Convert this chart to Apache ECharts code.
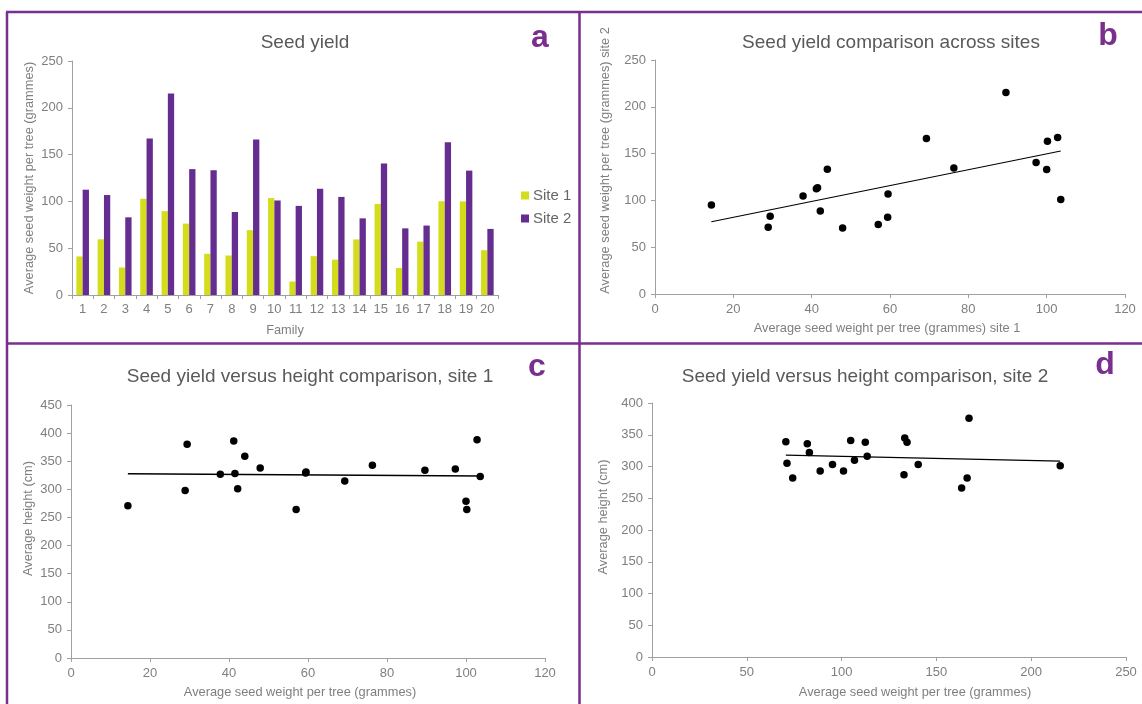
<!DOCTYPE html>
<html><head><meta charset="utf-8">
<script src="https://cdn.jsdelivr.net/npm/echarts@6/dist/echarts.min.js"></script>
<style>html,body{margin:0;padding:0;background:#fff}#c{width:1142px;height:704px}</style>
</head><body><div id="c"></div>
<script>
// ---- data ----
const families = ['1','2','3','4','5','6','7','8','9','10','11','12','13','14','15','16','17','18','19','20'];
const seriesNames = ['Site 1', 'Site 2'];
// average seed weight per tree (grammes)
const site1Yield = [41.2, 59.5, 29.4, 102.8, 89.6, 76.3, 44.0, 42.2, 69.3, 103.6, 14.4, 41.5, 37.8, 59.4, 97.3, 28.9, 57.0, 100.2, 100.0, 47.9];
const site2Yield = [112.5, 106.8, 83.0, 167.2, 215.3, 134.5, 133.3, 88.7, 166.2, 101.0, 95.2, 113.5, 104.8, 81.9, 140.4, 71.2, 74.2, 163.3, 132.9, 70.6];
// average height (cm)
const site1Height = [386, 331, 380, 388, 334, 343, 359, 301, 315, 323, 271, 328, 327, 329, 336, 298, 264, 264, 279, 338];
const site2Height = [338, 310, 322, 376, 301, 338, 345, 293, 282, 293, 303, 316, 341, 336, 303, 305, 282, 266, 287, 339];
// trend line end points
const trendB = [[14.4, 77.2], [103.6, 152.8]];
const trendC = [[14.4, 327.5], [103.6, 323.5]];
const trendD = [[70.6, 317.9], [215.3, 308.5]];
// titles and texts
const titles = ['Seed yield', 'Seed yield comparison across sites', 'Seed yield versus height comparison, site 1', 'Seed yield versus height comparison, site 2'];
const letters = ['a', 'b', 'c', 'd'];
const yieldName = 'Average seed weight per tree (grammes)';

// ---- styling ----
const FONT = 'Liberation Sans';
const PURPLE = '#7a2e8e';
const C1 = '#d4dd1c';
const C2 = '#662d91';
const AX = '#a0a0a0';
const LBL = '#7f7f7f';
const NAME_FS = 12.8;

function nameStyle(padding) {
  return { color: LBL, fontSize: NAME_FS, fontFamily: FONT, padding: padding || 0 };
}
function valAxis(opt) {
  return Object.assign({
    type: 'value',
    splitLine: { show: false },
    axisLine: { show: true, lineStyle: { color: AX, width: 1 } },
    axisTick: { show: true, length: 4, lineStyle: { color: AX } },
    axisLabel: { color: LBL, fontSize: 13, fontFamily: FONT, margin: 9 },
    nameLocation: 'middle',
    nameTextStyle: nameStyle()
  }, opt);
}

const chart = echarts.init(document.getElementById('c'));

const option = {
  animation: false,
  backgroundColor: '#fff',
  textStyle: { fontFamily: FONT },
  grid: [
    { left: 72, top: 61, width: 426, height: 234, outerBoundsMode: 'none' },
    { left: 655, top: 60, width: 470, height: 234, outerBoundsMode: 'none' },
    { left: 71, top: 405, width: 474, height: 253, outerBoundsMode: 'none' },
    { left: 652, top: 403, width: 474, height: 254, outerBoundsMode: 'none' }
  ],
  legend: {
    orient: 'vertical', left: 516, top: 183,
    itemWidth: 8, itemHeight: 8, itemGap: 8, icon: 'rect',
    data: seriesNames,
    textStyle: { color: '#666', fontSize: 15, fontFamily: FONT, padding: [0, 0, 0, -1] }
  },
  xAxis: [
    {
      type: 'category', gridIndex: 0, data: families,
      axisLine: { lineStyle: { color: AX } },
      axisTick: { show: true, length: 4, alignWithLabel: false, lineStyle: { color: AX } },
      axisLabel: { color: LBL, fontSize: 13, fontFamily: FONT, margin: 8, interval: 0 },
      name: 'Family', nameLocation: 'middle', nameGap: 29,
      nameTextStyle: nameStyle()
    },
    valAxis({ gridIndex: 1, min: 0, max: 120, interval: 20, name: yieldName + ' site 1', nameGap: 28,
      nameTextStyle: nameStyle([0, 6, 0, 0]) }),
    valAxis({ gridIndex: 2, min: 0, max: 120, interval: 20, name: yieldName, nameGap: 28,
      nameTextStyle: nameStyle([0, 16, 0, 0]) }),
    valAxis({ gridIndex: 3, min: 0, max: 250, interval: 50, name: yieldName, nameGap: 29,
      nameTextStyle: nameStyle([0, 0, 0, 52]) })
  ],
  yAxis: [
    valAxis({ gridIndex: 0, min: 0, max: 250, interval: 50, name: yieldName, nameGap: 36 }),
    valAxis({ gridIndex: 1, min: 0, max: 250, interval: 50, name: yieldName + ' site 2', nameGap: 43,
      nameTextStyle: nameStyle([0, 0, 0, 33]) }),
    valAxis({ gridIndex: 2, min: 0, max: 450, interval: 50, name: 'Average height (cm)', nameGap: 36,
      nameTextStyle: nameStyle([0, 0, 0, 26]) }),
    valAxis({ gridIndex: 3, min: 0, max: 400, interval: 50, name: 'Average height (cm)', nameGap: 42,
      nameTextStyle: nameStyle([0, 0, 0, 26]) })
  ],
  series: [
    { name: seriesNames[0], type: 'bar', xAxisIndex: 0, yAxisIndex: 0, data: site1Yield,
      barWidth: 6.3, barGap: '0%', itemStyle: { color: C1 } },
    { name: seriesNames[1], type: 'bar', xAxisIndex: 0, yAxisIndex: 0, data: site2Yield,
      barWidth: 6.3, barGap: '0%', itemStyle: { color: C2 } },
    { type: 'scatter', xAxisIndex: 1, yAxisIndex: 1, symbolSize: 7.5,
      data: site1Yield.map((v, i) => [v, site2Yield[i]]), itemStyle: { color: '#000', opacity: 1 } },
    { type: 'line', xAxisIndex: 1, yAxisIndex: 1, data: trendB, symbol: 'none',
      lineStyle: { color: '#000', width: 1.2 } },
    { type: 'scatter', xAxisIndex: 2, yAxisIndex: 2, symbolSize: 7.5,
      data: site1Yield.map((v, i) => [v, site1Height[i]]), itemStyle: { color: '#000', opacity: 1 } },
    { type: 'line', xAxisIndex: 2, yAxisIndex: 2, data: trendC, symbol: 'none',
      lineStyle: { color: '#000', width: 1.5 } },
    { type: 'scatter', xAxisIndex: 3, yAxisIndex: 3, symbolSize: 7.5,
      data: site2Yield.map((v, i) => [v, site2Height[i]]), itemStyle: { color: '#000', opacity: 1 } },
    { type: 'line', xAxisIndex: 3, yAxisIndex: 3, data: trendD, symbol: 'none',
      lineStyle: { color: '#000', width: 1.2 } }
  ],
  graphic: [
    // panel borders
    { type: 'line', shape: { x1: 6, y1: 12, x2: 1142, y2: 12 }, style: { stroke: PURPLE, lineWidth: 2.5 } },
    { type: 'line', shape: { x1: 7, y1: 12, x2: 7, y2: 704 }, style: { stroke: PURPLE, lineWidth: 2.5 } },
    { type: 'line', shape: { x1: 579.5, y1: 12, x2: 579.5, y2: 704 }, style: { stroke: PURPLE, lineWidth: 2.5 } },
    { type: 'line', shape: { x1: 7, y1: 343.5, x2: 1142, y2: 343.5 }, style: { stroke: PURPLE, lineWidth: 2.5 } },
    // titles
    { type: 'text', style: { text: titles[0], x: 305, y: 43, align: 'center', verticalAlign: 'middle', fill: '#595959', fontSize: 19, fontFamily: FONT } },
    { type: 'text', style: { text: titles[1], x: 891, y: 43, align: 'center', verticalAlign: 'middle', fill: '#595959', fontSize: 19, fontFamily: FONT } },
    { type: 'text', style: { text: titles[2], x: 310, y: 377, align: 'center', verticalAlign: 'middle', fill: '#595959', fontSize: 19, fontFamily: FONT } },
    { type: 'text', style: { text: titles[3], x: 865, y: 377, align: 'center', verticalAlign: 'middle', fill: '#595959', fontSize: 19, fontFamily: FONT } },
    // panel letters
    { type: 'text', style: { text: letters[0], x: 540, y: 38, align: 'center', verticalAlign: 'middle', fill: PURPLE, fontSize: 32, fontWeight: 'bold', fontFamily: FONT } },
    { type: 'text', style: { text: letters[1], x: 1108, y: 36, align: 'center', verticalAlign: 'middle', fill: PURPLE, fontSize: 32, fontWeight: 'bold', fontFamily: FONT } },
    { type: 'text', style: { text: letters[2], x: 537, y: 367, align: 'center', verticalAlign: 'middle', fill: PURPLE, fontSize: 32, fontWeight: 'bold', fontFamily: FONT } },
    { type: 'text', style: { text: letters[3], x: 1105, y: 365, align: 'center', verticalAlign: 'middle', fill: PURPLE, fontSize: 32, fontWeight: 'bold', fontFamily: FONT } }
  ]
};
chart.setOption(option);
</script>
</body></html>
